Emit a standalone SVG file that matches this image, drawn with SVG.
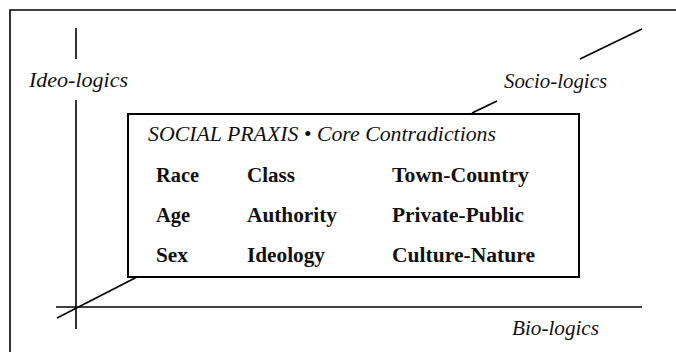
<svg xmlns="http://www.w3.org/2000/svg" width="676" height="352" viewBox="0 0 676 352">
<style>
.ln{stroke:#000;stroke-width:1.6;fill:none}
.lab{font-family:"Liberation Serif","Times New Roman",serif;font-style:italic;font-size:20px;fill:#111}
.b{font-family:"Liberation Serif","Times New Roman",serif;font-weight:bold;font-size:20px;fill:#111}
</style>
<rect width="676" height="352" fill="#fff"/>
<path class="ln" d="M10,352 V10 H676" stroke-width="2"/>
<g id="connectors">
<line class="ln" x1="76" y1="28" x2="76" y2="59"/>
<line class="ln" x1="76" y1="100" x2="76" y2="329"/>
<line class="ln" x1="56" y1="307" x2="642" y2="307"/>
<line class="ln" x1="57" y1="318" x2="137" y2="277"/>
<line class="ln" x1="472" y1="113" x2="497" y2="101"/>
<line class="ln" x1="580" y1="59" x2="642" y2="29"/>
</g>
<g id="ideo"><text class="lab" x="29" y="87" textLength="99" lengthAdjust="spacingAndGlyphs">Ideo-logics</text></g>
<g id="socio"><text class="lab" x="504" y="88" textLength="103" lengthAdjust="spacingAndGlyphs">Socio-logics</text></g>
<g id="bio"><text class="lab" x="512" y="335" textLength="87" lengthAdjust="spacingAndGlyphs">Bio-logics</text></g>
<g id="praxis">
<rect x="128" y="114" width="451" height="163" fill="#fff" stroke="#000" stroke-width="2"/>
<text class="lab" x="148" y="141" textLength="348" lengthAdjust="spacingAndGlyphs">SOCIAL PRAXIS • Core Contradictions</text>
<text class="b" x="156" y="182" textLength="43" lengthAdjust="spacingAndGlyphs">Race</text>
<text class="b" x="247" y="182" textLength="48" lengthAdjust="spacingAndGlyphs">Class</text>
<text class="b" x="392" y="182" textLength="137" lengthAdjust="spacingAndGlyphs">Town-Country</text>
<text class="b" x="156" y="222" textLength="34" lengthAdjust="spacingAndGlyphs">Age</text>
<text class="b" x="247" y="222" textLength="90" lengthAdjust="spacingAndGlyphs">Authority</text>
<text class="b" x="392" y="222" textLength="132" lengthAdjust="spacingAndGlyphs">Private-Public</text>
<text class="b" x="156" y="262" textLength="32" lengthAdjust="spacingAndGlyphs">Sex</text>
<text class="b" x="247" y="262" textLength="78" lengthAdjust="spacingAndGlyphs">Ideology</text>
<text class="b" x="392" y="262" textLength="143" lengthAdjust="spacingAndGlyphs">Culture-Nature</text>
</g>
</svg>
